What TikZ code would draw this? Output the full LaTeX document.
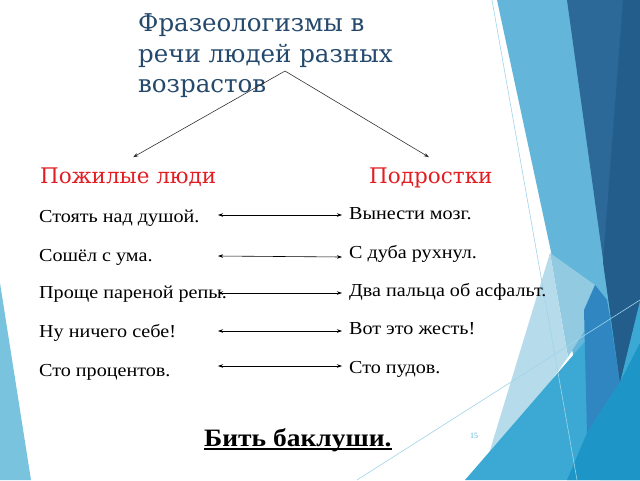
\documentclass[tikz,border=0pt]{standalone}
\usepackage{fontspec}
\setmainfont{Liberation Serif}
\newfontfamily\titlefont{DejaVu Serif}
\newfontfamily\bodyfont[FakeStretch=1.1]{Liberation Serif}
\usetikzlibrary{arrows.meta}
\definecolor{titleblue}{RGB}{36,73,108}
\definecolor{headred}{RGB}{226,30,36}
\definecolor{leftcyan}{RGB}{122,195,223}
\definecolor{lightblue}{RGB}{99,181,217}
\definecolor{lighterblue}{RGB}{146,202,226}
\definecolor{paleblue}{RGB}{182,220,235}
\definecolor{darkblueA}{RGB}{44,105,152}
\definecolor{darkblueB}{RGB}{35,93,140}
\definecolor{midblue}{RGB}{47,134,193}
\definecolor{bottomblue}{RGB}{59,169,212}
\definecolor{tealblue}{RGB}{30,149,199}
\definecolor{thinline}{RGB}{160,212,234}
\definecolor{numblue}{RGB}{90,180,216}
\begin{document}
\begin{tikzpicture}[x=1pt,y=-1pt,
  titletext/.style={anchor=base west, inner sep=0pt, text=titleblue, font=\titlefont\fontsize{24.5}{29}\selectfont},
  headtext/.style={anchor=base west, inner sep=0pt, text=headred, font=\titlefont\fontsize{21.5}{25}\selectfont},
  phrase/.style={anchor=base west, inner sep=0pt, font=\bodyfont\fontsize{18.3}{21}\selectfont},
  bigphrase/.style={anchor=base west, inner sep=0pt, font=\bodyfont\bfseries\fontsize{25}{29}\selectfont},
  pagenum/.style={anchor=base west, inner sep=0pt, text=numblue, font=\fontsize{8}{10}\selectfont},
  treearrow/.style={-{Stealth[length=5pt,width=3.5pt]}, line width=0.55pt, draw=black!85},
  pairarrow/.style={{Stealth[length=5pt,width=3.5pt]}-{Stealth[length=5pt,width=3.5pt]}, line width=0.6pt, draw=black},
  thin/.style={draw=thinline, line width=0.6pt}
]
\useasboundingbox (0,0) rectangle (640,480);
\fill[white] (0,0) rectangle (640,480);
% background facets
\fill[leftcyan] (0,283) -- (31,480) -- (0,480) -- cycle;
\fill[lightblue] (497,0) -- (640,0) -- (640,480) -- (600,480) -- cycle;
\fill[lighterblue] (550,253) -- (595,285) -- (585,330) -- (568,357) -- cycle;
\fill[paleblue] (550,253) -- (568,357) -- (481,480) -- cycle;
\fill[bottomblue] (465,480) -- (640,278) -- (640,480) -- cycle;
\fill[midblue] (595,285) -- (607,300) -- (620,382) -- (587,433) -- (584,310) -- cycle;
\fill[darkblueA] (567,0) -- (640,0) -- (640,300) -- (620,382) -- cycle;
\fill[darkblueB] (623,0) -- (640,0) -- (640,300) -- (620,382) -- (603,262) -- cycle;
\fill[tealblue] (567,480) -- (587,433) -- (620,382) -- (640,343) -- (640,480) -- cycle;
\draw[thin] (492,0) -- (577,480);
\draw[thin] (357,480) -- (640,300);

% title
\node[titletext] (title1) at (138,31) {Фразеологизмы в};
\node[titletext] (title2) at (138,62) {речи людей разных};
\node[titletext] (title3) at (138,92) {возрастов};
\coordinate (apex) at (285,71);

% headings
\node[headtext] (old) at (40,183) {Пожилые люди};
\node[headtext] (teen) at (369,183) {Подростки};
\draw[treearrow] (apex) -- ([xshift=5pt,yshift=10pt]old.north);
\draw[treearrow] (apex) -- ([xshift=-2pt,yshift=10pt]teen.north);

% phrases
\node[phrase] (l1) at (39,222) {Стоять над душой.};
\node[phrase] (l2) at (39,261) {Сошёл с ума.};
\node[phrase] (l3) at (39,298) {Проще пареной репы.};
\node[phrase] (l4) at (39,337) {Ну ничего себе!};
\node[phrase] (l5) at (39,376) {Сто процентов.};
\node[phrase] (r1) at (349,219) {Вынести мозг.};
\node[phrase] (r2) at (349,258) {С дуба рухнул.};
\node[phrase] (r3) at (349,296) {Два пальца об асфальт.};
\node[phrase] (r4) at (349,334) {Вот это жесть!};
\node[phrase] (r5) at (349,373) {Сто пудов.};

\coordinate (a1l) at (218,215); \coordinate (a1r) at (342,215);
\coordinate (a2l) at (218,256); \coordinate (a2r) at (342,257);
\coordinate (a3l) at (218,293); \coordinate (a3r) at (342,293);
\coordinate (a4l) at (218,331); \coordinate (a4r) at (342,331);
\coordinate (a5l) at (218,366); \coordinate (a5r) at (342,366);
\draw[pairarrow] (a1l) -- (a1r);
\draw[pairarrow] (a2l) -- (a2r);
\draw[pairarrow] (a3l) -- (a3r);
\draw[pairarrow] (a4l) -- (a4r);
\draw[pairarrow] (a5l) -- (a5r);

% bottom
\node[bigphrase] (idiom) at (204,446) {Бить баклуши.};
\draw[line width=1.4pt] ([yshift=-3pt]idiom.base west) -- ([yshift=-3pt]idiom.base east);
\node[pagenum] (num) at (470,438) {15};
\end{tikzpicture}
\end{document}
